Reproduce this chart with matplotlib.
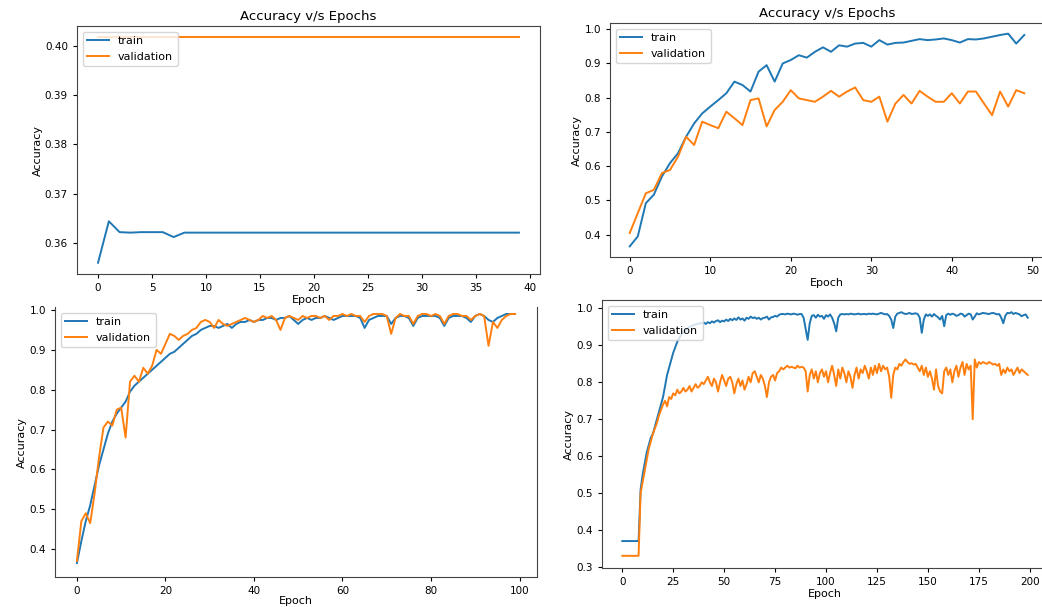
import matplotlib
matplotlib.use("Agg")
import matplotlib.pyplot as plt

# ---- panel 1: 40 epochs (top left) ----
train_1 = [0.3560, 0.3644, 0.3622, 0.3621, 0.3622, 0.3622, 0.3622, 0.3612, 0.3621, 0.3621,
           0.3621, 0.3621, 0.3621, 0.3621, 0.3621, 0.3621, 0.3621, 0.3621, 0.3621, 0.3621,
           0.3621, 0.3621, 0.3621, 0.3621, 0.3621, 0.3621, 0.3621, 0.3621, 0.3621, 0.3621,
           0.3621, 0.3621, 0.3621, 0.3621, 0.3621, 0.3621, 0.3621, 0.3621, 0.3621, 0.3621]
val_1 = [0.4017, 0.4017, 0.4017, 0.4017, 0.4017, 0.4017, 0.4017, 0.4017, 0.4017, 0.4017,
         0.4017, 0.4017, 0.4017, 0.4017, 0.4017, 0.4017, 0.4017, 0.4017, 0.4017, 0.4017,
         0.4017, 0.4017, 0.4017, 0.4017, 0.4017, 0.4017, 0.4017, 0.4017, 0.4017, 0.4017,
         0.4017, 0.4017, 0.4017, 0.4017, 0.4017, 0.4017, 0.4017, 0.4017, 0.4017, 0.4017]

# ---- panel 2: 50 epochs (top right) ----
train_2 = [0.366, 0.395, 0.492, 0.517, 0.570, 0.609, 0.638, 0.686, 0.725, 0.754,
           0.774, 0.793, 0.813, 0.847, 0.837, 0.818, 0.876, 0.895, 0.847, 0.900,
           0.910, 0.924, 0.917, 0.934, 0.947, 0.934, 0.953, 0.949, 0.958, 0.960,
           0.949, 0.968, 0.955, 0.960, 0.961, 0.966, 0.971, 0.968, 0.970, 0.973,
           0.968, 0.961, 0.971, 0.970, 0.973, 0.978, 0.983, 0.987, 0.958, 0.983]
val_2 = [0.405, 0.463, 0.521, 0.531, 0.580, 0.589, 0.628, 0.686, 0.662, 0.730,
         0.720, 0.711, 0.759, 0.740, 0.720, 0.793, 0.798, 0.716, 0.764, 0.788,
         0.822, 0.798, 0.793, 0.788, 0.803, 0.820, 0.803, 0.818, 0.830, 0.793,
         0.788, 0.803, 0.730, 0.783, 0.808, 0.783, 0.820, 0.803, 0.788, 0.788,
         0.813, 0.783, 0.818, 0.818, 0.783, 0.749, 0.818, 0.774, 0.822, 0.813]

# ---- panel 3: 100 epochs (bottom left) ----
train_3 = [0.365, 0.420, 0.470, 0.510, 0.560, 0.610, 0.650, 0.690, 0.720, 0.740,
           0.755, 0.770, 0.795, 0.810, 0.820, 0.830, 0.840, 0.850, 0.860, 0.870,
           0.880, 0.890, 0.895, 0.905, 0.915, 0.925, 0.935, 0.940, 0.950, 0.955,
           0.960, 0.960, 0.955, 0.960, 0.965, 0.955, 0.965, 0.970, 0.970, 0.975,
           0.970, 0.975, 0.975, 0.980, 0.980, 0.975, 0.980, 0.980, 0.985, 0.975,
           0.965, 0.975, 0.980, 0.975, 0.980, 0.980, 0.985, 0.980, 0.975, 0.980,
           0.985, 0.985, 0.985, 0.985, 0.980, 0.955, 0.975, 0.980, 0.985, 0.985,
           0.985, 0.965, 0.980, 0.985, 0.985, 0.980, 0.960, 0.980, 0.985, 0.985,
           0.985, 0.985, 0.980, 0.960, 0.980, 0.985, 0.985, 0.985, 0.980, 0.970,
           0.985, 0.990, 0.985, 0.975, 0.970, 0.980, 0.985, 0.990, 0.990, 0.990]
val_3 = [0.370, 0.470, 0.490, 0.465, 0.540, 0.630, 0.705, 0.720, 0.710, 0.750,
         0.755, 0.680, 0.820, 0.835, 0.820, 0.855, 0.840, 0.860, 0.900, 0.890,
         0.915, 0.940, 0.935, 0.925, 0.935, 0.940, 0.950, 0.955, 0.970, 0.975,
         0.970, 0.955, 0.975, 0.965, 0.960, 0.965, 0.970, 0.975, 0.980, 0.975,
         0.970, 0.975, 0.985, 0.980, 0.985, 0.975, 0.950, 0.980, 0.985, 0.980,
         0.975, 0.985, 0.980, 0.985, 0.985, 0.980, 0.985, 0.975, 0.985, 0.985,
         0.990, 0.985, 0.990, 0.985, 0.985, 0.970, 0.985, 0.990, 0.990, 0.990,
         0.985, 0.940, 0.980, 0.990, 0.985, 0.985, 0.965, 0.985, 0.990, 0.990,
         0.985, 0.990, 0.985, 0.965, 0.985, 0.990, 0.990, 0.985, 0.985, 0.975,
         0.985, 0.990, 0.985, 0.910, 0.970, 0.955, 0.975, 0.985, 0.990, 0.990]

# ---- panel 4: 200 epochs (bottom right) ----
train_4 = [0.370, 0.370, 0.370, 0.370, 0.370, 0.370, 0.370, 0.370, 0.370, 0.510,
           0.550, 0.580, 0.610, 0.630, 0.650, 0.660, 0.680, 0.700, 0.720, 0.740,
           0.760, 0.790, 0.820, 0.840, 0.860, 0.880, 0.895, 0.910, 0.920, 0.930,
           0.935, 0.940, 0.945, 0.950, 0.952, 0.955, 0.957, 0.958, 0.960, 0.960,
           0.962, 0.958, 0.963, 0.960, 0.965, 0.962, 0.966, 0.968, 0.963, 0.967,
           0.965, 0.970, 0.966, 0.972, 0.968, 0.973, 0.969, 0.976, 0.970, 0.973,
           0.967, 0.975, 0.972, 0.978, 0.974, 0.976, 0.972, 0.975, 0.970, 0.974,
           0.975, 0.978, 0.970, 0.976, 0.977, 0.980, 0.978, 0.983, 0.985, 0.985,
           0.984, 0.986, 0.985, 0.984, 0.986, 0.985, 0.983, 0.985, 0.985, 0.975,
           0.945, 0.915, 0.960, 0.980, 0.982, 0.975, 0.983, 0.978, 0.980, 0.972,
           0.982, 0.978, 0.984, 0.975, 0.960, 0.938, 0.975, 0.984, 0.985, 0.984,
           0.985, 0.984, 0.986, 0.985, 0.984, 0.985, 0.986, 0.984, 0.985, 0.985,
           0.984, 0.986, 0.985, 0.986, 0.985, 0.984, 0.986, 0.988, 0.986, 0.984,
           0.985, 0.980, 0.970, 0.947, 0.978, 0.986, 0.988, 0.990, 0.987, 0.985,
           0.986, 0.988, 0.985, 0.986, 0.987, 0.985, 0.975, 0.934, 0.970, 0.984,
           0.980, 0.984, 0.978, 0.985, 0.980, 0.976, 0.970, 0.980, 0.952, 0.982,
           0.986, 0.983, 0.986, 0.984, 0.980, 0.982, 0.986, 0.985, 0.978, 0.982,
           0.986, 0.984, 0.970, 0.978, 0.987, 0.984, 0.986, 0.988, 0.987, 0.986,
           0.985, 0.987, 0.988, 0.986, 0.984, 0.985, 0.975, 0.960, 0.980, 0.988,
           0.987, 0.990, 0.985, 0.988, 0.986, 0.984, 0.979, 0.982, 0.984, 0.975]
val_4 = [0.330, 0.330, 0.330, 0.330, 0.330, 0.330, 0.330, 0.330, 0.330, 0.500,
         0.530, 0.560, 0.590, 0.620, 0.640, 0.660, 0.675, 0.690, 0.710, 0.725,
         0.740, 0.750, 0.735, 0.760, 0.755, 0.770, 0.765, 0.780, 0.770, 0.775,
         0.785, 0.775, 0.780, 0.790, 0.775, 0.785, 0.795, 0.785, 0.790, 0.800,
         0.795, 0.805, 0.815, 0.800, 0.790, 0.810, 0.800, 0.775, 0.800, 0.820,
         0.805, 0.790, 0.810, 0.815, 0.800, 0.770, 0.795, 0.810, 0.790, 0.805,
         0.780, 0.795, 0.815, 0.800, 0.825, 0.830, 0.815, 0.800, 0.820, 0.810,
         0.790, 0.760, 0.800, 0.815, 0.820, 0.805, 0.825, 0.830, 0.840, 0.835,
         0.840, 0.845, 0.840, 0.842, 0.840, 0.838, 0.845, 0.840, 0.842, 0.840,
         0.830, 0.775, 0.820, 0.835, 0.810, 0.830, 0.800, 0.825, 0.835, 0.815,
         0.830, 0.800, 0.825, 0.845, 0.820, 0.790, 0.835, 0.810, 0.840, 0.825,
         0.800, 0.830, 0.815, 0.785, 0.820, 0.840, 0.810, 0.835, 0.825, 0.845,
         0.830, 0.810, 0.840, 0.820, 0.845, 0.825, 0.850, 0.830, 0.845, 0.835,
         0.840, 0.815, 0.758, 0.820, 0.840, 0.835, 0.850, 0.845, 0.855, 0.862,
         0.855, 0.850, 0.852, 0.848, 0.850, 0.840, 0.830, 0.845, 0.820, 0.840,
         0.815, 0.830, 0.810, 0.780, 0.835, 0.790, 0.775, 0.770, 0.830, 0.840,
         0.820, 0.835, 0.800, 0.830, 0.845, 0.815, 0.840, 0.855, 0.820, 0.850,
         0.835, 0.845, 0.700, 0.862, 0.840, 0.855, 0.850, 0.855, 0.852, 0.850,
         0.855, 0.852, 0.848, 0.850, 0.845, 0.850, 0.820, 0.835, 0.825, 0.840,
         0.830, 0.835, 0.820, 0.830, 0.840, 0.825, 0.835, 0.830, 0.825, 0.820]

plt.rcParams.update({
    "font.size": 8,
    "axes.titlesize": 9.5,
    "xtick.labelsize": 7.5,
    "ytick.labelsize": 7.5,
    "legend.fontsize": 8,
    "lines.linewidth": 1.4,
    "axes.linewidth": 0.8,
    "axes.edgecolor": "#444444",
    "xtick.major.size": 3,
    "ytick.major.size": 3,
    "axes.labelpad": 1.5,
    "axes.titlepad": 4,
})

W, H = 1042, 607


def px_axes(fig, left, top, right, bottom):
    """Axes placed by pixel edges of the 1042x607 canvas."""
    return fig.add_axes([left / W, 1 - bottom / H, (right - left) / W, (bottom - top) / H])


def draw(ax, train, val, xticks, yticks, title=None):
    ax.plot(range(len(train)), train, label="train")
    ax.plot(range(len(val)), val, label="validation")
    ax.set_xticks(xticks)
    ax.set_yticks(yticks)
    ax.set_xlabel("Epoch")
    ax.set_ylabel("Accuracy")
    if title:
        ax.set_title(title)
    ax.legend(loc="upper left")


fig = plt.figure(figsize=(W / 100, H / 100), dpi=100)

ax1 = px_axes(fig, 77, 26, 540, 274)
draw(ax1, train_1, val_1, range(0, 41, 5), [0.36, 0.37, 0.38, 0.39, 0.40],
     "Accuracy v/s Epochs")
ax1.set_yticklabels(["0.36", "0.37", "0.38", "0.39", "0.40"])

ax2 = px_axes(fig, 610, 23, 1044, 257)
draw(ax2, train_2, val_2, range(0, 51, 10), [0.4, 0.5, 0.6, 0.7, 0.8, 0.9, 1.0],
     "Accuracy v/s Epochs")

ax3 = px_axes(fig, 55, 307, 537, 577)
draw(ax3, train_3, val_3, range(0, 101, 20), [0.4, 0.5, 0.6, 0.7, 0.8, 0.9, 1.0])
ax3.set_ylim(0.33, 1.0075)
ax3.spines["top"].set_visible(False)
ax3.xaxis.labelpad = 0

ax4 = px_axes(fig, 602, 300, 1048, 568)
draw(ax4, train_4, val_4, range(0, 201, 25), [0.3, 0.4, 0.5, 0.6, 0.7, 0.8, 0.9, 1.0])

fig.savefig("out.png", dpi=100)
